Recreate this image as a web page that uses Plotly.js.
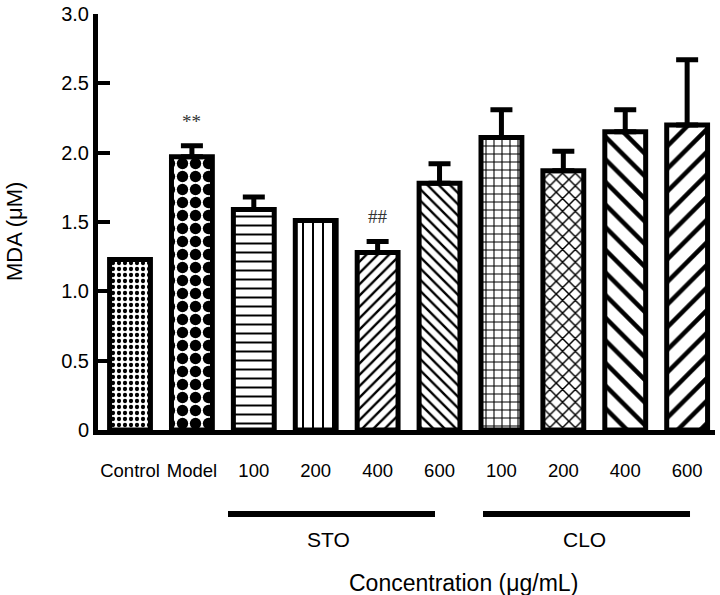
<!DOCTYPE html>
<html>
<head>
<meta charset="utf-8">
<script src="https://cdn.plot.ly/plotly-3.0.1.min.js"></script>
<style>
  html, body { margin: 0; padding: 0; background: #fff; }
  #chart { width: 720px; height: 595px; }
</style>
</head>
<body>
<div id="chart"></div>
<script>
// ---- Data ----
const groupLabels = ["Control", "Model", "100", "200", "400", "600", "100", "200", "400", "600"];
const mdaValues   = [1.23, 1.97, 1.59, 1.51, 1.28, 1.78, 2.11, 1.87, 2.15, 2.20];
const mdaErrors   = [0.00, 0.08, 0.09, 0.00, 0.08, 0.14, 0.20, 0.14, 0.16, 0.47];
const markLabels  = ["", "**", "", "", "##", "", "", "", "", ""];
const yTickVals   = [0, 0.5, 1.0, 1.5, 2.0, 2.5, 3.0];
const yTickText   = ["0", "0.5", "1.0", "1.5", "2.0", "2.5", "3.0"];
const groupNames  = ["STO", "CLO"];

// ---- Fill patterns (style only) ----
const patterns = [
  {shape: ".", size: 6,  solidity: 0.4},
  {shape: ".", size: 13, solidity: 0.6},
  {shape: "-", size: 9,  solidity: 0.22},
  {shape: "|", size: 10, solidity: 0.2},
  {shape: "/", size: 8,  solidity: 0.3},
  {shape: "\\", size: 8, solidity: 0.3},
  {shape: "+", size: 8,  solidity: 0.25},
  {shape: "x", size: 9,  solidity: 0.3},
  {shape: "\\", size: 16, solidity: 0.28},
  {shape: "/", size: 16, solidity: 0.28}
];

const xIdx = groupLabels.map((_, i) => i);

const trace = {
  type: "bar",
  x: xIdx,
  y: mdaValues,
  width: 0.66,
  marker: {
    color: "#ffffff",
    line: {color: "#000000", width: 5},
    pattern: {
      shape: patterns.map(p => p.shape),
      size: patterns.map(p => p.size),
      solidity: patterns.map(p => p.solidity),
      fgcolor: "#000000",
      fgopacity: 1,
      bgcolor: "#ffffff",
      fillmode: "replace"
    }
  },
  error_y: {
    type: "data",
    symmetric: false,
    array: mdaErrors,
    arrayminus: mdaErrors.map(() => 0),
    color: "#000000",
    thickness: 5,
    width: 11
  },
  hoverinfo: "none"
};

const annotations = [];
markLabels.forEach((m, i) => {
  if (m) {
    annotations.push({
      x: i, y: mdaValues[i] + mdaErrors[i], xref: "x", yref: "y",
      text: m, showarrow: false, yanchor: "bottom", yshift: 12,
      font: {family: "Liberation Serif, DejaVu Serif, serif", size: 19, color: "#333333"}
    });
  }
});
const sansFont = "Liberation Sans, Arial, sans-serif";
annotations.push({
  xref: "paper", yref: "paper", x: -0.1345, y: 0.476, textangle: -90,
  text: "MDA (μM)", showarrow: false, xanchor: "center", yanchor: "middle",
  font: {family: sansFont, size: 22, color: "#000"}
});
annotations.push({
  xref: "paper", yref: "paper", x: 0.3728, y: -0.2644,
  text: groupNames[0], showarrow: false, xanchor: "center", yanchor: "middle",
  font: {family: sansFont, size: 21, color: "#000"}
});
annotations.push({
  xref: "paper", yref: "paper", x: 0.789, y: -0.2644,
  text: groupNames[1], showarrow: false, xanchor: "center", yanchor: "middle",
  font: {family: sansFont, size: 21, color: "#000"}
});
annotations.push({
  xref: "paper", yref: "paper", x: 0.593, y: -0.3678,
  text: "Concentration (μg/mL)", showarrow: false, xanchor: "center", yanchor: "middle",
  font: {family: sansFont, size: 23, color: "#000"}
});

const shapes = [
  {type: "line", xref: "paper", yref: "paper", x0: 0.2107, x1: 0.5462, y0: -0.2019, y1: -0.2019,
   line: {color: "#000", width: 6}},
  {type: "line", xref: "paper", yref: "paper", x0: 0.624, x1: 0.9595, y0: -0.2019, y1: -0.2019,
   line: {color: "#000", width: 6}}
];

const layout = {
  width: 720, height: 595,
  margin: {l: 98, r: 5, t: 14, b: 165, pad: 0},
  paper_bgcolor: "#ffffff",
  plot_bgcolor: "#ffffff",
  showlegend: false,
  font: {family: sansFont, color: "#000"},
  xaxis: {
    range: [-0.517, 9.45],
    tickvals: xIdx,
    ticktext: groupLabels,
    tickangle: 0,
    ticks: "",
    showgrid: false,
    zeroline: false,
    showline: true,
    linecolor: "#000",
    linewidth: 5,
    ticklabelstandoff: 20,
    tickfont: {family: sansFont, size: 18.5, color: "#000"},
    fixedrange: true
  },
  yaxis: {
    range: [0, 3],
    tickvals: yTickVals,
    ticktext: yTickText,
    ticks: "inside",
    ticklen: 12,
    tickwidth: 4,
    tickcolor: "#000",
    showgrid: false,
    zeroline: false,
    showline: true,
    linecolor: "#000",
    linewidth: 5,
    tickfont: {family: sansFont, size: 20, color: "#000"},
    fixedrange: true
  },
  annotations: annotations,
  shapes: shapes,
  bargap: 0.3
};

Plotly.newPlot("chart", [trace], layout, {displayModeBar: false, staticPlot: true});
</script>
</body>
</html>
